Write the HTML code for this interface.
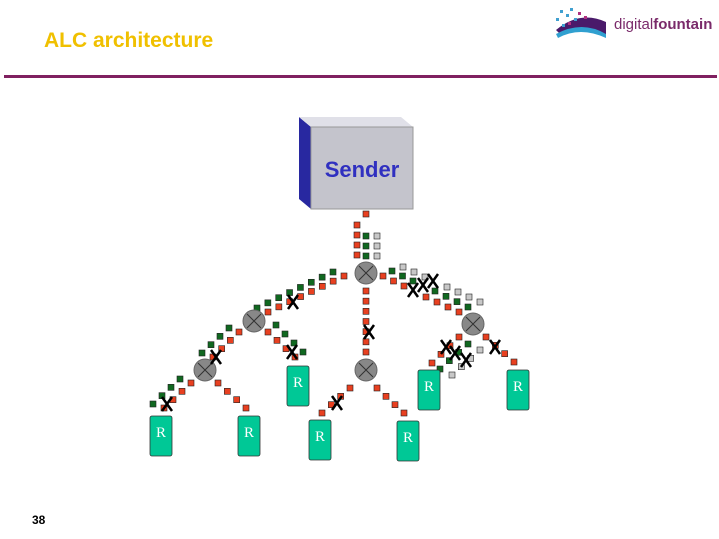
<!DOCTYPE html>
<html><head><meta charset="utf-8"><style>
body{margin:0;width:719px;height:539px;background:#fff;overflow:hidden;position:relative;font-family:"Liberation Sans",sans-serif}
</style></head><body>
<div style="position:absolute;left:44px;top:29px;font-size:21px;font-weight:bold;color:#f0c000">ALC architecture</div>
<div style="position:absolute;left:4px;top:75px;width:713px;height:3px;background:#802060"></div>
<div style="position:absolute;left:32px;top:513px;font-size:12px;font-weight:bold">38</div>
<div style="position:absolute;left:614px;top:16px;font-size:15px;color:#7a2a6a">digital<b>fountain</b></div>
<svg width="719" height="539" style="position:absolute;left:0;top:0" id="s">
 <g id="logo">
  <path d="M556 30 Q580 10 606 22 L606 36 Q585 22 560 34Z" fill="#4a1a6a"/>
  <path d="M556 34 Q582 20 606 34 L606 38 Q580 26 558 38Z" fill="#30a0d0"/>
  <g fill="#40a0d0"><rect x="560" y="10" width="3" height="3"/><rect x="566" y="14" width="3" height="3"/><rect x="556" y="18" width="3" height="3"/><rect x="570" y="8" width="3" height="3"/><rect x="562" y="24" width="3" height="3"/><rect x="574" y="18" width="3" height="3"/></g>
  <g fill="#b03080"><rect x="568" y="22" width="3" height="3"/><rect x="578" y="12" width="3" height="3"/><rect x="584" y="16" width="3" height="3"/></g>
 </g>
 <polygon points="299,117 311,127 311,209 299,199" fill="#2828a0"/>
 <polygon points="299,117 401,117 413,127 311,127" fill="#e0e0e8"/>
 <rect x="311" y="127" width="102" height="82" fill="#c4c4cc" stroke="#999" stroke-width="1"/>
 <text x="362" y="177" text-anchor="middle" font-family="Liberation Sans" font-weight="bold" font-size="22" fill="#3030c0">Sender</text>
 <g id="sq"></g>
 <g id="rt"></g>
 <g id="rb" font-family="Liberation Serif" font-size="15" fill="#fff" text-anchor="middle"></g>
 <g id="xs" stroke="#000" stroke-width="2.5"></g>
</svg>
<script>
var NS="http://www.w3.org/2000/svg";
function el(p,t,a){var e=document.createElementNS(NS,t);for(var k in a)e.setAttribute(k,a[k]);document.getElementById(p).appendChild(e);return e;}
var C={r:"#e84020",g:"#106820",y:"#c8c8c8"};
function sq(x,y,c){el("sq","rect",{x:x-3,y:y-3,width:6,height:6,fill:C[c],stroke:"#222","stroke-width":0.6});}
function line(x1,y1,x2,y2,n,c){for(var i=0;i<n;i++){var t=n==1?0:i/(n-1);sq(x1+(x2-x1)*t,y1+(y2-y1)*t,c);}}
sq(366,214,"r");sq(357,225,"r");
line(357,235,357,255,3,"r");line(366,236,366,256,3,"g");line(377,236,377,256,3,"y");
line(366,291,366,352,7,"r");
line(344,276,268,312,8,"r");line(333,272,257,308,8,"g");
line(239,332,213,357,4,"r");line(229,328,202,353,4,"g");
line(268,332,295,357,4,"r");line(276,325,303,352,4,"g");
line(191,383,164,408,4,"r");line(180,379,153,404,4,"g");
line(218,383,246,408,4,"r");
line(350,388,322,413,4,"r");
line(377,388,404,413,4,"r");
line(383,276,404,286,3,"r");line(426,297,459,312,4,"r");
line(392,271,413,281,3,"g");line(435,291,468,307,4,"g");
line(403,267,425,277,3,"y");line(447,287,480,302,4,"y");
line(459,337,432,363,4,"r");line(468,344,440,369,4,"g");line(480,350,452,375,4,"y");
line(486,337,514,362,4,"r");
[[366,273],[254,321],[205,370],[366,370],[473,324]].forEach(function(p){
 el("rt","circle",{cx:p[0],cy:p[1],r:11,fill:"#888",stroke:"#666"});
 el("rt","path",{d:"M"+(p[0]-7)+" "+(p[1]-7)+"L"+(p[0]+7)+" "+(p[1]+7)+"M"+(p[0]+7)+" "+(p[1]-7)+"L"+(p[0]-7)+" "+(p[1]+7),stroke:"#333","stroke-width":1});
});
[[150,416],[238,416],[287,366],[309,420],[397,421],[418,370],[507,370]].forEach(function(p){
 el("rb","rect",{x:p[0],y:p[1],width:22,height:40,rx:2,fill:"#00c896",stroke:"#333","stroke-width":0.8});
 var t=el("rb","text",{x:p[0]+11,y:p[1]+21});t.textContent="R";
});
[[293,302],[369,332],[216,357],[292,352],[167,404],[337,403],[413,290],[423,285],[433,281],[446,347],[455,353],[466,360],[495,347]].forEach(function(p){
 el("xs","path",{d:"M"+(p[0]-5)+" "+(p[1]-7)+"L"+(p[0]+5)+" "+(p[1]+7)+"M"+(p[0]+5)+" "+(p[1]-7)+"L"+(p[0]-5)+" "+(p[1]+7)});
});
</script>
</body></html>
